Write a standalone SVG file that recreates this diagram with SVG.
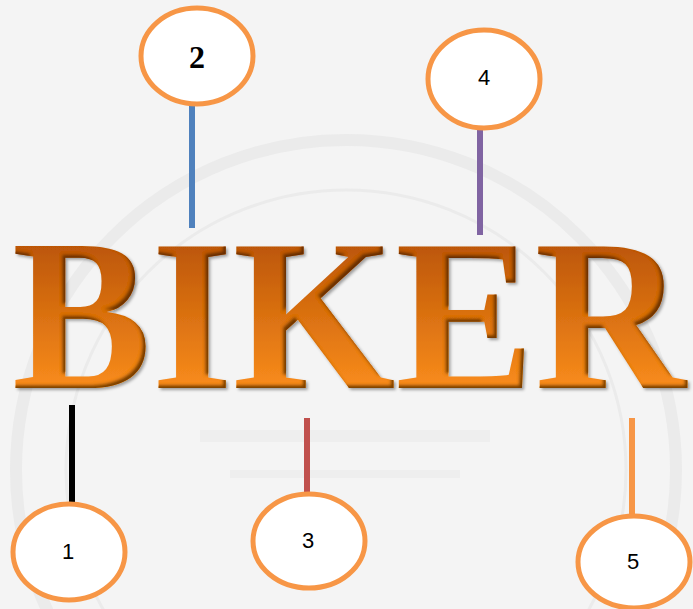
<svg xmlns="http://www.w3.org/2000/svg" width="693" height="609" viewBox="0 0 693 609">
<defs>
<style>
.node ellipse{fill:#ffffff;stroke:#f79646;stroke-width:5}
.lbl{font-family:"Liberation Sans",Arial,sans-serif;font-size:22px;fill:#000;text-anchor:middle;dominant-baseline:central}
.lblb{font-family:"Liberation Serif","Times New Roman",serif;font-size:32px;font-weight:bold;fill:#000;text-anchor:middle;dominant-baseline:central}
.conn line{stroke-width:6}
.wm{fill:none;stroke:#ebebeb}
</style>
<linearGradient id="og" gradientUnits="userSpaceOnUse" x1="0" y1="-139" x2="0" y2="0">
<stop offset="0" stop-color="#bc5606"/>
<stop offset="1" stop-color="#f98c1c"/>
</linearGradient>
<filter id="emb" x="-2%" y="-5%" width="104%" height="110%">
<feOffset in="SourceAlpha" dx="-3" dy="-3" result="off"/>
<feGaussianBlur in="off" stdDeviation="1.5" result="blur"/>
<feComposite in="SourceAlpha" in2="blur" operator="arithmetic" k2="1" k3="-1" result="mask"/>
<feFlood flood-color="#4a2200" flood-opacity="0.85"/>
<feComposite in2="mask" operator="in" result="inner"/>
<feOffset in="SourceAlpha" dx="1.5" dy="2" result="ds"/>
<feGaussianBlur in="ds" stdDeviation="1.5" result="dsb"/>
<feFlood flood-color="#000" flood-opacity="0.35"/>
<feComposite in2="dsb" operator="in" result="drop"/>
<feMerge><feMergeNode in="drop"/><feMergeNode in="SourceGraphic"/><feMergeNode in="inner"/></feMerge>
</filter>
</defs>
<rect width="693" height="609" fill="#f4f4f4"/>
<g id="watermark">
<circle class="wm" cx="346" cy="470" r="330" stroke-width="12"/>
<circle class="wm" cx="346" cy="470" r="280" stroke-width="3"/>
<rect x="200" y="430" width="290" height="12" fill="#eeeeee"/>
<rect x="230" y="470" width="230" height="8" fill="#eeeeee"/>
</g>
<g id="title">
<text transform="translate(12,388) scale(1,1.035)" x="0" y="0" font-family="'Liberation Serif','Times New Roman',serif" font-weight="bold" font-size="209" fill="url(#og)" filter="url(#emb)">BIKER</text>
</g>
<g id="connectors" class="conn">
<line x1="72" y1="405" x2="72" y2="503" stroke="#000000"/>
<line x1="192" y1="105" x2="192" y2="228" stroke="#4f81bd"/>
<line x1="307" y1="418" x2="307" y2="494" stroke="#c0504d"/>
<line x1="480" y1="128" x2="480" y2="235" stroke="#8064a2"/>
<line x1="632" y1="418" x2="632" y2="515" stroke="#f79646"/>
</g>
<g id="node1" class="node"><ellipse cx="69" cy="552" rx="56" ry="48"/><text class="lbl" x="68" y="551">1</text></g>
<g id="node2" class="node"><ellipse cx="197" cy="56" rx="56" ry="48"/><text class="lblb" x="197" y="57">2</text></g>
<g id="node3" class="node"><ellipse cx="309" cy="541" rx="56" ry="47"/><text class="lbl" x="308" y="540">3</text></g>
<g id="node4" class="node"><ellipse cx="484" cy="79" rx="56" ry="49"/><text class="lbl" x="484" y="77">4</text></g>
<g id="node5" class="node"><ellipse cx="634" cy="562" rx="56" ry="46"/><text class="lbl" x="633" y="561">5</text></g>
</svg>
